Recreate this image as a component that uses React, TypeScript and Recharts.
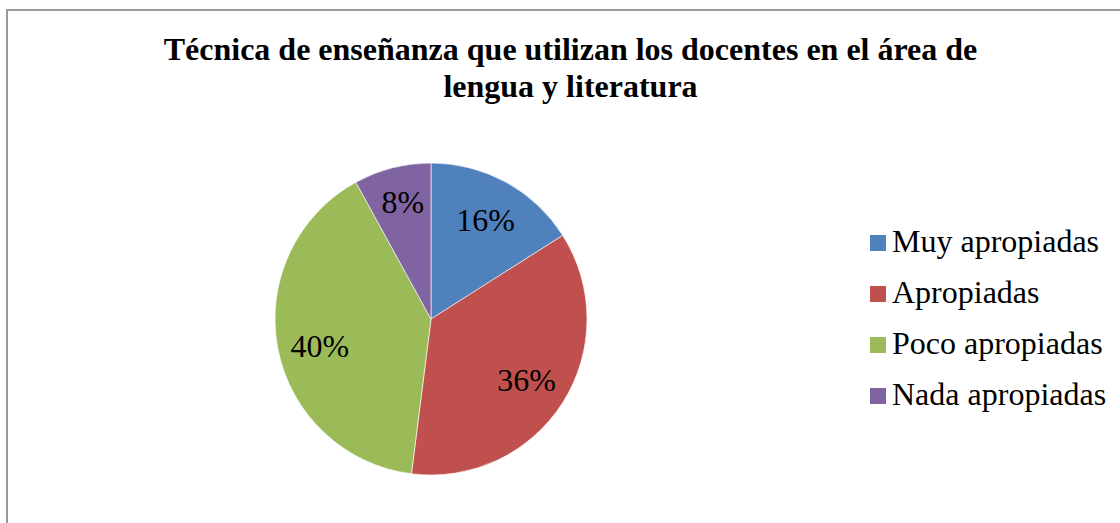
import React from "react";
import { PieChart, Pie, Cell, Legend } from "recharts";

const categories = ["Muy apropiadas", "Apropiadas", "Poco apropiadas", "Nada apropiadas"];
const values = [16, 36, 40, 8];
const colors = ["#4F81BD", "#C0504D", "#9BBB59", "#8064A2"];
const titleLines = ["Técnica de enseñanza que utilizan los docentes en el área de", "lengua y literatura"];

const data = categories.map((name, i) => ({ name, value: values[i] }));
const FONT = "Liberation Serif, serif";
const RAD = Math.PI / 180;
// small per-slice label nudges (style only), mimicking Excel's best-fit placement
const labelNudgeY = [0, 0, 6, -7];

const renderLabel = (props: any) => {
  const { cx, cy, midAngle, outerRadius, value, index } = props;
  const r = outerRadius * 0.725;
  const x = cx + r * Math.cos(-midAngle * RAD);
  const y = cy + r * Math.sin(-midAngle * RAD) + (labelNudgeY[index] || 0);
  return (
    <text
      x={x}
      y={y}
      textAnchor="middle"
      dominantBaseline="central"
      style={{ fontFamily: FONT, fontSize: 32, fill: "#000" }}
    >
      {`${value}%`}
    </text>
  );
};

const renderLegend = () => (
  <div style={{ fontFamily: FONT, fontSize: 32, color: "#000" }}>
    {categories.map((name, i) => (
      <div key={name} style={{ display: "flex", alignItems: "center", height: 51 }}>
        <div style={{ width: 16, height: 16, background: colors[i], marginRight: 6, flexShrink: 0 }} />
        <span style={{ fontFamily: FONT, lineHeight: "32px", position: "relative", top: -2, whiteSpace: "nowrap" }}>{name}</span>
      </div>
    ))}
  </div>
);

export default function App() {
  return (
    <div style={{ position: "fixed", left: 0, top: 0, width: 1120, height: 523, overflow: "hidden", background: "#fff", fontFamily: FONT }}>
      <div style={{ position: "absolute", left: 6, top: 9, width: 1200, height: 600, border: "2px solid #9a9a9a", boxSizing: "border-box" }} />
      <svg style={{ position: "absolute", left: 0, top: 0 }} width={1120} height={130}>
        <text x={570.5} y={60} textAnchor="middle" style={{ fontFamily: FONT, fontSize: 32, fontWeight: "bold", fill: "#000" }}>{titleLines[0]}</text>
        <text x={570.5} y={97} textAnchor="middle" style={{ fontFamily: FONT, fontSize: 32, fontWeight: "bold", fill: "#000" }}>{titleLines[1]}</text>
      </svg>
      <div style={{ position: "absolute", left: 0, top: 0 }}>
        <PieChart width={1120} height={523} margin={{ top: 0, right: 0, bottom: 0, left: 0 }}>
          <Pie
            data={data}
            dataKey="value"
            nameKey="name"
            cx={431}
            cy={319}
            outerRadius={156}
            startAngle={90}
            endAngle={-270}
            stroke="#ffffff"
            strokeWidth={0.6}
            label={renderLabel}
            labelLine={false}
            isAnimationActive={false}
          >
            {data.map((d, i) => (
              <Cell key={d.name} fill={colors[i]} />
            ))}
          </Pie>
          <Legend
            layout="vertical"
            content={renderLegend}
            wrapperStyle={{ position: "absolute", left: 870, top: 217.5, width: 260 }}
          />
        </PieChart>
      </div>
    </div>
  );
}
